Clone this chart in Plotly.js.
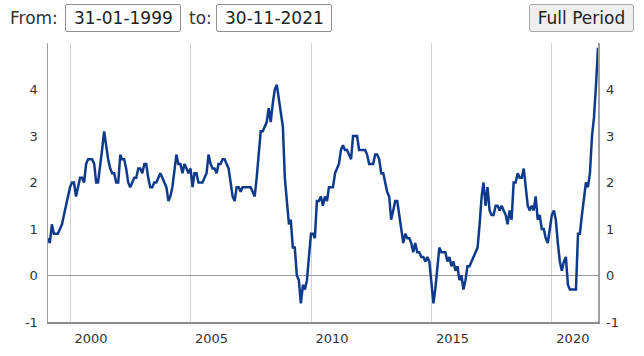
<!DOCTYPE html>
<html>
<head>
<meta charset="utf-8">
<script src="https://cdn.plot.ly/plotly-3.0.1.min.js"></script>
<style>
  html, body { margin: 0; padding: 0; background: #ffffff; }
  body { width: 644px; height: 356px; position: relative; overflow: hidden; font-family: "DejaVu Sans", Verdana, sans-serif; color: #222; }
  #chart { position: absolute; left: 0; top: 0; width: 644px; height: 356px; }
  .lbl { position: absolute; font-size: 17px; line-height: 28px; top: 4px; z-index: 2; color: #333; }
  .box { position: absolute; top: 4px; height: 28px; box-sizing: border-box; border: 1px solid #8f8f8f; border-radius: 2px; font-size: 17px; line-height: 26px; padding-left: 8px; z-index: 2; background: #fff; color: #222; }
  .btn { position: absolute; top: 4px; left: 529px; width: 105px; height: 28px; box-sizing: border-box; border: 1px solid #a9a9a9; border-radius: 3px; background: #efefef; font-size: 17px; line-height: 26px; text-align: center; z-index: 2; color: #222; }
</style>
</head>
<body>
<div class="lbl" style="left:10px;">From:</div>
<div class="box" style="left:65px; width:116px;">31-01-1999</div>
<div class="lbl" style="left:189px;">to:</div>
<div class="box" style="left:216px; width:116px;">30-11-2021</div>
<div class="btn">Full Period</div>
<div id="chart"></div>
<script>
// Annual rate (%), one array per year (Jan..Dec)
const hicp1999 = [0.8, 0.7, 1.1, 0.9, 0.9, 0.9, 1.0, 1.1, 1.3, 1.5, 1.7, 1.9];
const hicp2000 = [2.0, 2.0, 1.7, 1.9, 2.1, 2.1, 2.0, 2.4, 2.5, 2.5, 2.5, 2.4];
const hicp2001 = [2.0, 2.0, 2.3, 2.7, 3.1, 2.8, 2.5, 2.3, 2.2, 2.2, 2.0, 2.0];
const hicp2002 = [2.6, 2.5, 2.5, 2.3, 2.0, 1.9, 2.0, 2.1, 2.1, 2.3, 2.3, 2.2];
const hicp2003 = [2.4, 2.4, 2.1, 1.9, 1.9, 2.0, 2.0, 2.1, 2.2, 2.1, 2.0, 1.9];
const hicp2004 = [1.6, 1.7, 1.9, 2.3, 2.6, 2.4, 2.4, 2.2, 2.4, 2.3, 2.2, 2.3];
const hicp2005 = [1.9, 2.2, 2.2, 2.0, 2.0, 2.0, 2.1, 2.2, 2.6, 2.4, 2.3, 2.3];
const hicp2006 = [2.2, 2.4, 2.4, 2.5, 2.5, 2.4, 2.3, 2.0, 1.7, 1.6, 1.9, 1.9];
const hicp2007 = [1.8, 1.9, 1.9, 1.9, 1.9, 1.9, 1.8, 1.7, 2.1, 2.6, 3.1, 3.1];
const hicp2008 = [3.2, 3.3, 3.6, 3.3, 3.7, 4.0, 4.1, 3.8, 3.6, 3.2, 2.1, 1.6];
const hicp2009 = [1.1, 1.2, 0.6, 0.6, 0.0, -0.1, -0.6, -0.2, -0.3, -0.1, 0.5, 0.9];
const hicp2010 = [0.9, 0.8, 1.6, 1.6, 1.7, 1.5, 1.7, 1.6, 1.9, 1.9, 1.9, 2.2];
const hicp2011 = [2.3, 2.4, 2.7, 2.8, 2.7, 2.7, 2.6, 2.5, 3.0, 3.0, 3.0, 2.7];
const hicp2012 = [2.7, 2.7, 2.7, 2.6, 2.4, 2.4, 2.4, 2.6, 2.6, 2.5, 2.2, 2.2];
const hicp2013 = [2.0, 1.8, 1.7, 1.2, 1.4, 1.6, 1.6, 1.3, 1.1, 0.7, 0.9, 0.8];
const hicp2014 = [0.8, 0.7, 0.5, 0.7, 0.5, 0.5, 0.4, 0.4, 0.3, 0.4, 0.3, -0.2];
const hicp2015 = [-0.6, -0.3, 0.1, 0.6, 0.5, 0.5, 0.5, 0.3, 0.4, 0.2, 0.3, 0.1];
const hicp2016 = [0.2, -0.1, 0.0, -0.3, -0.1, 0.2, 0.2, 0.3, 0.4, 0.5, 0.6, 1.1];
const hicp2017 = [1.7, 2.0, 1.5, 1.9, 1.4, 1.3, 1.3, 1.5, 1.5, 1.4, 1.5, 1.4];
const hicp2018 = [1.3, 1.1, 1.4, 1.2, 2.0, 2.0, 2.2, 2.1, 2.1, 2.3, 1.9, 1.5];
const hicp2019 = [1.4, 1.5, 1.4, 1.7, 1.2, 1.3, 1.0, 1.0, 0.8, 0.7, 1.0, 1.3];
const hicp2020 = [1.4, 1.2, 0.7, 0.3, 0.1, 0.3, 0.4, -0.2, -0.3, -0.3, -0.3, -0.3];
const hicp2021 = [0.9, 0.9, 1.3, 1.6, 2.0, 1.9, 2.2, 3.0, 3.4, 4.1, 4.9];

const firstYear = 1999;
const xTickVals = ['2000-01-01', '2005-01-01', '2010-01-01', '2015-01-01', '2020-01-01'];
const xTickText = ['2000', '2005', '2010', '2015', '2020'];
const yTickVals = [-1, 0, 1, 2, 3, 4];
const yTickText = ['-1', '0', '1', '2', '3', '4'];

const values = [].concat(hicp1999, hicp2000, hicp2001, hicp2002, hicp2003, hicp2004,
  hicp2005, hicp2006, hicp2007, hicp2008, hicp2009, hicp2010, hicp2011, hicp2012,
  hicp2013, hicp2014, hicp2015, hicp2016, hicp2017, hicp2018, hicp2019, hicp2020, hicp2021);

function monthEnd(k) {
  const y = firstYear + Math.floor(k / 12);
  const m = k % 12;
  const d = new Date(Date.UTC(y, m + 1, 0));
  return d.toISOString().slice(0, 10);
}
const dates = values.map((v, k) => monthEnd(k));

const tickFont = { family: 'DejaVu Sans, Verdana, sans-serif', size: 13, color: '#333' };

const traces = [
  { x: dates, y: values, type: 'scatter', mode: 'lines',
    line: { color: '#0e3a8c', width: 2.5 }, hoverinfo: 'x+y', showlegend: false },
  { x: dates, y: values, type: 'scatter', mode: 'lines', yaxis: 'y2',
    line: { color: 'rgba(0,0,0,0)', width: 0 }, hoverinfo: 'skip', showlegend: false }
];

const layout = {
  width: 644, height: 356,
  margin: { l: 48, r: 46, t: 43, b: 34, pad: 0 },
  paper_bgcolor: 'rgba(0,0,0,0)', plot_bgcolor: '#ffffff',
  showlegend: false,
  xaxis: {
    type: 'date', range: ['1999-01-31', '2021-11-30'],
    tickmode: 'array', tickvals: xTickVals, ticktext: xTickText,
    showgrid: true, gridcolor: '#d4d4d4', gridwidth: 1,
    showline: true, linecolor: '#8c8c8c', linewidth: 2,
    ticks: '', zeroline: false, tickfont: tickFont,
    ticklabelshift: 21, ticklabelstandoff: 3, automargin: false, fixedrange: true
  },
  yaxis: {
    range: [-1, 5], tickmode: 'array', tickvals: yTickVals, ticktext: yTickText,
    showgrid: false, zeroline: true, zerolinecolor: '#9a9a9a', zerolinewidth: 1.5,
    showline: true, linecolor: '#a0a0a0', linewidth: 1.5,
    ticks: '', tickfont: tickFont, ticklabelstandoff: 6, automargin: false, fixedrange: true
  },
  yaxis2: {
    range: [-1, 5], overlaying: 'y', side: 'right', tickmode: 'array',
    tickvals: yTickVals, ticktext: yTickText,
    showgrid: false, zeroline: false,
    showline: true, linecolor: '#a0a0a0', linewidth: 1.5,
    ticks: '', tickfont: tickFont, ticklabelstandoff: 4, automargin: false, fixedrange: true
  }
};

Plotly.newPlot('chart', traces, layout, { displayModeBar: false, staticPlot: true });
</script>
</body>
</html>
